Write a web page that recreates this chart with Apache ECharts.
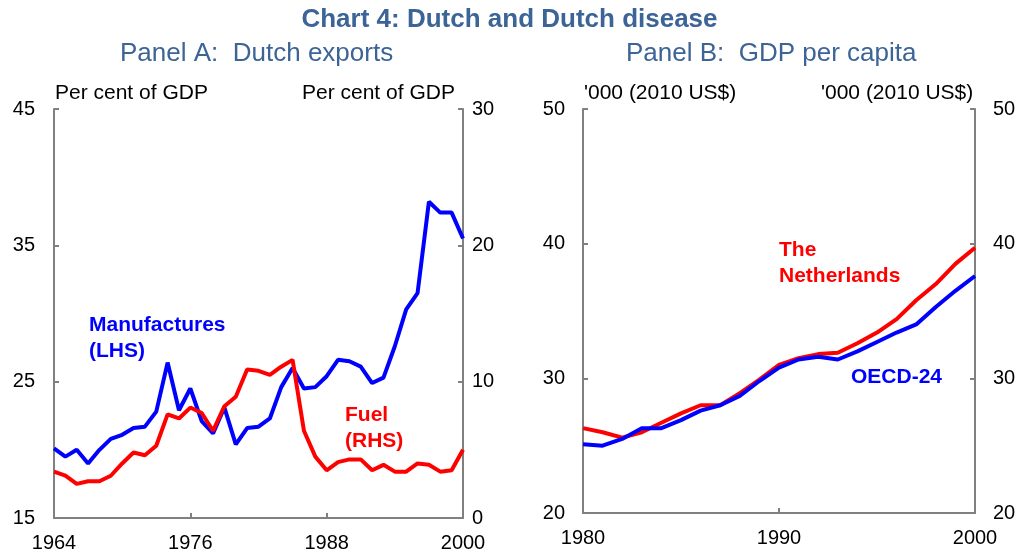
<!DOCTYPE html>
<html>
<head>
<meta charset="utf-8">
<script src="https://cdn.jsdelivr.net/npm/echarts@6/dist/echarts.min.js"></script>
<style>
  html, body { margin: 0; padding: 0; background: #fff; }
  #chart { width: 1019px; height: 554px; }
</style>
</head>
<body>
<div id="chart"></div>
<script>
// Panel A: Dutch exports, 1964-2000
const yearsA = []
for (let y = 1964; y <= 2000; y++) yearsA.push(y)
const manufactures = [
  20.1, 19.5, 20.0, 19.0, 20.0, 20.8, 21.1, 21.6, 21.7, 22.8,
  26.4, 22.9, 24.5, 22.1, 21.2, 23.1, 20.4, 21.6, 21.7, 22.3,
  24.6, 26.0, 24.5, 24.6, 25.4, 26.6, 26.5, 26.1, 24.9, 25.3,
  27.6, 30.3, 31.5, 38.2, 37.4, 37.4, 35.5
]
const fuel = [
  3.4, 3.1, 2.5, 2.7, 2.7, 3.1, 4.0, 4.8, 4.6, 5.3,
  7.6, 7.3, 8.1, 7.7, 6.4, 8.2, 8.9, 10.9, 10.8, 10.5,
  11.1, 11.6, 6.4, 4.5, 3.5, 4.1, 4.3, 4.3, 3.5, 3.9,
  3.4, 3.4, 4.0, 3.9, 3.4, 3.5, 5.0
]
// Panel B: GDP per capita, 1980-2000
const yearsB = []
for (let y = 1980; y <= 2000; y++) yearsB.push(y)
const netherlands = [
  26.3, 26.0, 25.6, 26.0, 26.7, 27.4, 28.0, 28.0, 28.9, 29.9,
  31.0, 31.5, 31.8, 31.9, 32.6, 33.4, 34.4, 35.8, 37.0, 38.5, 39.7
]
const oecd24 = [
  25.1, 25.0, 25.5, 26.3, 26.3, 26.9, 27.6, 28.0, 28.7, 29.8,
  30.8, 31.4, 31.6, 31.4, 32.0, 32.7, 33.4, 34.0, 35.3, 36.5, 37.6
]

const pairs = (xs, ys) => xs.map((x, i) => [x, ys[i]])

const chart = echarts.init(document.getElementById('chart'))
const FONT = 'Liberation Sans, Arial, sans-serif'
const GREY = '#808080'
const TITLE_COLOR = '#3c6496'

const axisLine = { show: true, lineStyle: { color: GREY, width: 2 } }
const axisTick = { show: true, inside: true, length: 5, lineStyle: { color: GREY, width: 2 } }
const axisLabel = { color: '#000', fontSize: 20, fontFamily: FONT, formatter: v => String(v) }

const yAxis = (grid, pos, min, max, margin) => ({
  type: 'value',
  gridIndex: grid,
  position: pos,
  min: min,
  max: max,
  interval: 10,
  axisLine: axisLine,
  axisTick: axisTick,
  splitLine: { show: false },
  axisLabel: Object.assign({}, axisLabel, { margin: margin })
})

const xAxis = (grid, min, max, interval) => ({
  type: 'value',
  gridIndex: grid,
  min: min,
  max: max,
  interval: interval,
  axisLine: axisLine,
  axisTick: axisTick,
  splitLine: { show: false },
  axisLabel: Object.assign({}, axisLabel, { margin: 15 })
})

const label = (text, x, y, color, font, opts) => ({
  type: 'text',
  left: x,
  top: y,
  style: Object.assign({ text: text, fill: color, font: font }, opts || {})
})

const option = {
  animation: false,
  grid: [
    { left: 54, right: 556, top: 109, bottom: 36 },
    { left: 583, right: 44, top: 109, bottom: 41 }
  ],
  xAxis: [
    xAxis(0, 1964, 2000, 12),
    xAxis(1, 1980, 2000, 10)
  ],
  yAxis: [
    yAxis(0, 'left', 15, 45, 19),
    yAxis(0, 'right', 0, 30, 9),
    yAxis(1, 'left', 20, 50, 18),
    yAxis(1, 'right', 20, 50, 18)
  ],
  series: [
    {
      type: 'line', name: 'Manufactures', xAxisIndex: 0, yAxisIndex: 0,
      data: pairs(yearsA, manufactures), showSymbol: false,
      lineStyle: { color: '#0000ff', width: 4 }
    },
    {
      type: 'line', name: 'Fuel', xAxisIndex: 0, yAxisIndex: 1,
      data: pairs(yearsA, fuel), showSymbol: false,
      lineStyle: { color: '#ff0000', width: 4 }
    },
    {
      type: 'line', name: 'The Netherlands', xAxisIndex: 1, yAxisIndex: 2,
      data: pairs(yearsB, netherlands), showSymbol: false,
      lineStyle: { color: '#ff0000', width: 4 }
    },
    {
      type: 'line', name: 'OECD-24', xAxisIndex: 1, yAxisIndex: 2,
      data: pairs(yearsB, oecd24), showSymbol: false,
      lineStyle: { color: '#0000ff', width: 4 }
    }
  ],
  graphic: [
    label('Chart 4: Dutch and Dutch disease', 'center', 7, TITLE_COLOR, 'bold 26px ' + FONT),
    label('Panel A:  Dutch exports', 120, 41, TITLE_COLOR, '26px ' + FONT),
    label('Panel B:  GDP per capita', 626, 41, TITLE_COLOR, '26px ' + FONT),
    label('Per cent of GDP', 55, 83, '#000', '21px ' + FONT),
    label('Per cent of GDP', 302, 83, '#000', '21px ' + FONT),
    label("'000 (2010 US$)", 584, 83, '#000', '21px ' + FONT),
    label("'000 (2010 US$)", 821, 83, '#000', '21px ' + FONT),
    label('Manufactures\n(LHS)', 89, 312, '#0000ff', 'bold 21px ' + FONT, { lineHeight: 26 }),
    label('Fuel\n(RHS)', 345, 402, '#ff0000', 'bold 21px ' + FONT, { lineHeight: 26 }),
    label('The\nNetherlands', 779, 237, '#ff0000', 'bold 21px ' + FONT, { lineHeight: 26 }),
    label('OECD-24', 851, 367, '#0000ff', 'bold 21px ' + FONT)
  ]
}
chart.setOption(option)
</script>
</body>
</html>
